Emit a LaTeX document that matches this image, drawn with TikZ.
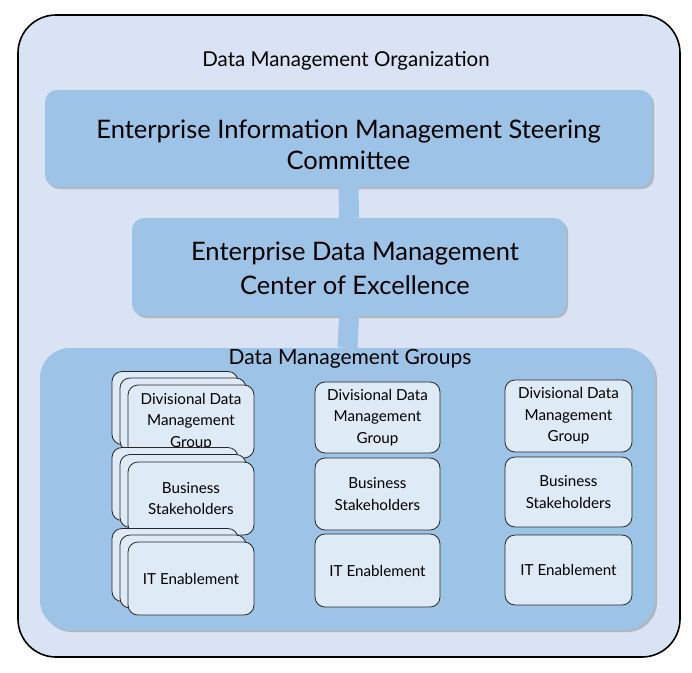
\documentclass[tikz,border=0pt]{standalone}
\usepackage{fontspec}
\setmainfont{Lato}
\usetikzlibrary{shadows}
\definecolor{orgfill}{RGB}{218,227,243}
\definecolor{midblue}{RGB}{157,195,230}
\definecolor{lightbox}{RGB}{222,234,246}
\begin{document}
\begin{tikzpicture}[x=1pt,y=-1pt,
  outerbox/.style={draw=black, line width=1.6pt, fill=orgfill, rounded corners=38pt, minimum width=662pt, minimum height=642pt},
  bigbox/.style={fill=midblue, rounded corners=12pt, align=center,
     drop shadow={shadow xshift=2pt, shadow yshift=-2pt, opacity=0.35, fill=black!60}},
  groupbox/.style={fill=midblue, rounded corners=30pt, minimum width=615pt, minimum height=282pt,
     drop shadow={shadow xshift=2pt, shadow yshift=-2pt, opacity=0.35, fill=black!60}},
  smallbox/.style={draw=black!85, line width=0.8pt, fill=lightbox, rounded corners=10pt,
     minimum width=126pt, minimum height=73pt, align=center, inner sep=2pt,
     font=\fontsize{15.2}{21.5}\selectfont},
  link/.style={midblue, line width=20pt}
]
\useasboundingbox (0,0) rectangle (692,672);
\node[outerbox] (org) at (349,336) {};
\node[font=\fontsize{20.5}{22}\selectfont] (orgtitle) at (346,61) {Data Management Organization};

\node[groupbox] (groups) at (347.5,489) {};
\node[font=\fontsize{21}{22}\selectfont] (groupstitle) at (350,359) {Data Management Groups};

\node[bigbox, minimum width=607pt, minimum height=97pt, font=\fontsize{25.5}{31}\selectfont] (steer) at (348.5,138.5) {};
\node[font=\fontsize{25.5}{31}\selectfont, align=center] (steertext) at (348.5,145)
  {Enterprise Information Management Steering\\Committee};
\node[bigbox, minimum width=434pt, minimum height=98pt] (coe) at (349,267) {};
\node[font=\fontsize{25.5}{34}\selectfont, align=center] (coetext) at (355,268)
  {Enterprise Data Management\\Center of Excellence};

\draw[link] (steer.south) -- (coe.north);
\draw[link] (coe.south) -- (groups.north);

% column 1 (stacked)
\node[smallbox] (d1c) at (175,408) {};
\node[smallbox] (d1b) at (183,414.5) {};
\node[smallbox] (d1) at (191,421.5) {Divisional Data\\Management\\Group};
\node[smallbox] (b1c) at (175,484) {};
\node[smallbox] (b1b) at (183,491) {};
\node[smallbox] (b1) at (191,498.5) {Business\\Stakeholders};
\node[smallbox] (i1c) at (175,565) {};
\node[smallbox] (i1b) at (183,571.5) {};
\node[smallbox] (i1) at (191,578.5) {IT Enablement};

% column 2
\node[smallbox, minimum width=125pt, minimum height=71pt] (d2) at (377.5,417.5) {Divisional Data\\Management\\Group};
\node[smallbox, minimum width=125pt, minimum height=72pt] (b2) at (377.5,494) {Business\\Stakeholders};
\node[smallbox, minimum width=125pt, minimum height=73pt] (i2) at (377.5,570.5) {IT Enablement};

% column 3
\node[smallbox, minimum width=127pt, minimum height=72pt] (d3) at (568.5,416) {Divisional Data\\Management\\Group};
\node[smallbox, minimum width=127pt, minimum height=70pt] (b3) at (568.5,492) {Business\\Stakeholders};
\node[smallbox, minimum width=127pt, minimum height=70pt] (i3) at (568.5,570) {IT Enablement};
\end{tikzpicture}
\end{document}
